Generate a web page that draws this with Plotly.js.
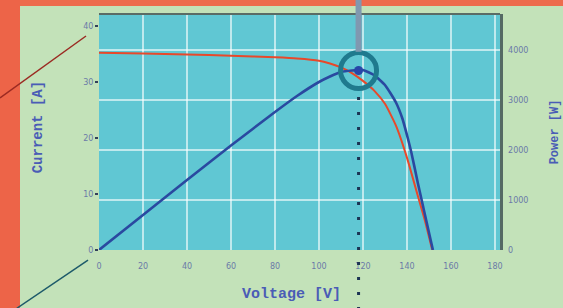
<!DOCTYPE html>
<html>
<head>
<meta charset="utf-8">
<script src="https://cdn.plot.ly/plotly-3.0.1.min.js"></script>
<style>html,body{margin:0;padding:0;background:#C3E2B9;}#chart{width:563px;height:308px;}</style>
</head>
<body>
<div id="chart"></div>
<script>
// I-V curve (left axis, Current [A])
const ivVoltage = [0, 20, 40, 60, 80, 90, 100, 105, 110, 115, 120, 125, 130, 135, 140, 145, 148, 151.5];
const ivCurrent = [35.2, 35.1, 34.9, 34.7, 34.4, 34.2, 33.8, 33.3, 32.6, 31.6, 30.2, 28.5, 26.1, 22.2, 16.5, 9.6, 5.5, 0];
// P-V curve (right axis, Power [W])
const pvVoltage = [0, 20, 40, 60, 80, 90, 100, 105, 110, 115, 120, 125, 130, 135, 138, 140, 142, 145, 148, 151.8];
const pvPower = [0, 700, 1400, 2090, 2760, 3080, 3360, 3470, 3560, 3590, 3600, 3500, 3300, 2950, 2620, 2300, 1950, 1330, 740, 0];
// maximum power point
const mppVoltage = [118];
const mppPower = [3590];
// ticks
const xTicks = [0, 20, 40, 60, 80, 100, 120, 140, 160, 180];
const yTicks = [0, 10, 20, 30, 40];
const y2Ticks = [0, 1000, 2000, 3000, 4000];
const xTitle = 'Voltage [V]';
const yTitle = 'Current [A]';
const y2Title = 'Power [W]';

const tickFont = {family: 'DejaVu Sans', size: 8, color: '#6b7aa8'};
const titleFont = {family: 'Liberation Mono', size: 15, color: '#4a5cb6', weight: 'bold'};

const traces = [
  {x: pvVoltage, y: pvPower, yaxis: 'y2', mode: 'lines', line: {color: '#2a49a0', width: 2.6, shape: 'spline', smoothing: 0.5}, hoverinfo: 'skip'},
  {x: ivVoltage, y: ivCurrent, yaxis: 'y', mode: 'lines', line: {color: '#e8482a', width: 2, shape: 'spline', smoothing: 0.5}, hoverinfo: 'skip'},
  {x: mppVoltage, y: mppPower, yaxis: 'y2', mode: 'markers', marker: {symbol: 'circle-open', size: 36, color: '#1f7a8e', line: {color: '#1f7a8e', width: 5}}, hoverinfo: 'skip'},
  {x: mppVoltage, y: mppPower, yaxis: 'y2', mode: 'markers', marker: {symbol: 'circle', size: 9, color: '#2846a8'}, hoverinfo: 'skip'}
];

const layout = {
  width: 563, height: 308,
  margin: {l: 99, r: 63, t: 14, b: 58},
  paper_bgcolor: '#C3E2B9',
  plot_bgcolor: '#60C7D3',
  showlegend: false,
  xaxis: {
    range: [0, 182.3], tickvals: xTicks, ticktext: xTicks.map(String),
    showgrid: true, gridcolor: 'rgba(255,255,255,0.6)', gridwidth: 1.5,
    zeroline: false, showline: false, ticks: '', tickfont: tickFont, ticklabelstandoff: 10
  },
  yaxis: {
    range: [0, 42.14], tickvals: yTicks, ticktext: yTicks.map(String),
    showgrid: false, zeroline: false, showline: false,
    ticks: 'outside', ticklen: 3, tickwidth: 1.5, tickcolor: '#33405a', tickfont: tickFont
  },
  yaxis2: {
    overlaying: 'y', side: 'right', range: [0, 4720], tickvals: y2Ticks, ticktext: y2Ticks.map(String),
    showgrid: true, gridcolor: 'rgba(255,255,255,0.6)', gridwidth: 1.5,
    zeroline: false, showline: true, linecolor: '#556a64', linewidth: 2.5,
    ticks: '', tickfont: tickFont, ticklabelstandoff: 4
  },
  annotations: [
    {xref: 'paper', yref: 'paper', x: 0.479, y: -0.19, text: xTitle, showarrow: false, font: titleFont, xanchor: 'center', yanchor: 'middle'},
    {xref: 'paper', yref: 'paper', x: -0.152, y: 0.52, text: yTitle, showarrow: false, font: Object.assign({}, titleFont, {size: 14}), textangle: -90, xanchor: 'center', yanchor: 'middle'},
    {xref: 'paper', yref: 'paper', x: 1.138, y: 0.5, text: y2Title, showarrow: false, font: Object.assign({}, titleFont, {size: 12}), textangle: -90, xanchor: 'center', yanchor: 'middle'}
  ],
  shapes: [
    // orange frame
    {type: 'rect', xref: 'paper', yref: 'paper', x0: -0.3, x1: 1.3, y0: 1.0339, y1: 1.2, fillcolor: '#ED6B4D', line: {width: 0}, layer: 'below'},
    {type: 'rect', xref: 'paper', yref: 'paper', x0: -0.3, x1: -0.197, y0: -0.3, y1: 1.2, fillcolor: '#ED6448', line: {width: 0}, layer: 'below'},
    // top border of plot
    {type: 'line', xref: 'paper', yref: 'paper', x0: 0, x1: 1, y0: 1, y1: 1, line: {color: '#5a6c66', width: 2}},
    // decorative leader lines
    {type: 'line', xref: 'paper', yref: 'paper', x0: -0.2469, y0: 0.644, x1: -0.0324, y1: 0.9068, line: {color: '#9b2a22', width: 1.5}},
    {type: 'line', xref: 'paper', yref: 'paper', x0: -0.0274, y0: -0.0424, x1: -0.205, y1: -0.247, line: {color: '#1d5a6a', width: 1.5}},
    // vertical bar above MPP ring and dotted line below
    {type: 'line', xref: 'x', yref: 'paper', x0: mppVoltage[0], x1: mppVoltage[0], y0: 1.07, y1: 0.84, line: {color: '#8098b0', width: 6}},
    {type: 'line', xref: 'x', yref: 'paper', x0: mppVoltage[0], x1: mppVoltage[0], y0: 0.648, y1: -0.27, line: {color: '#1c3454', width: 3, dash: '3px,12px'}}
  ]
};

Plotly.newPlot('chart', traces, layout, {displayModeBar: false, staticPlot: true});
</script>
</body>
</html>
